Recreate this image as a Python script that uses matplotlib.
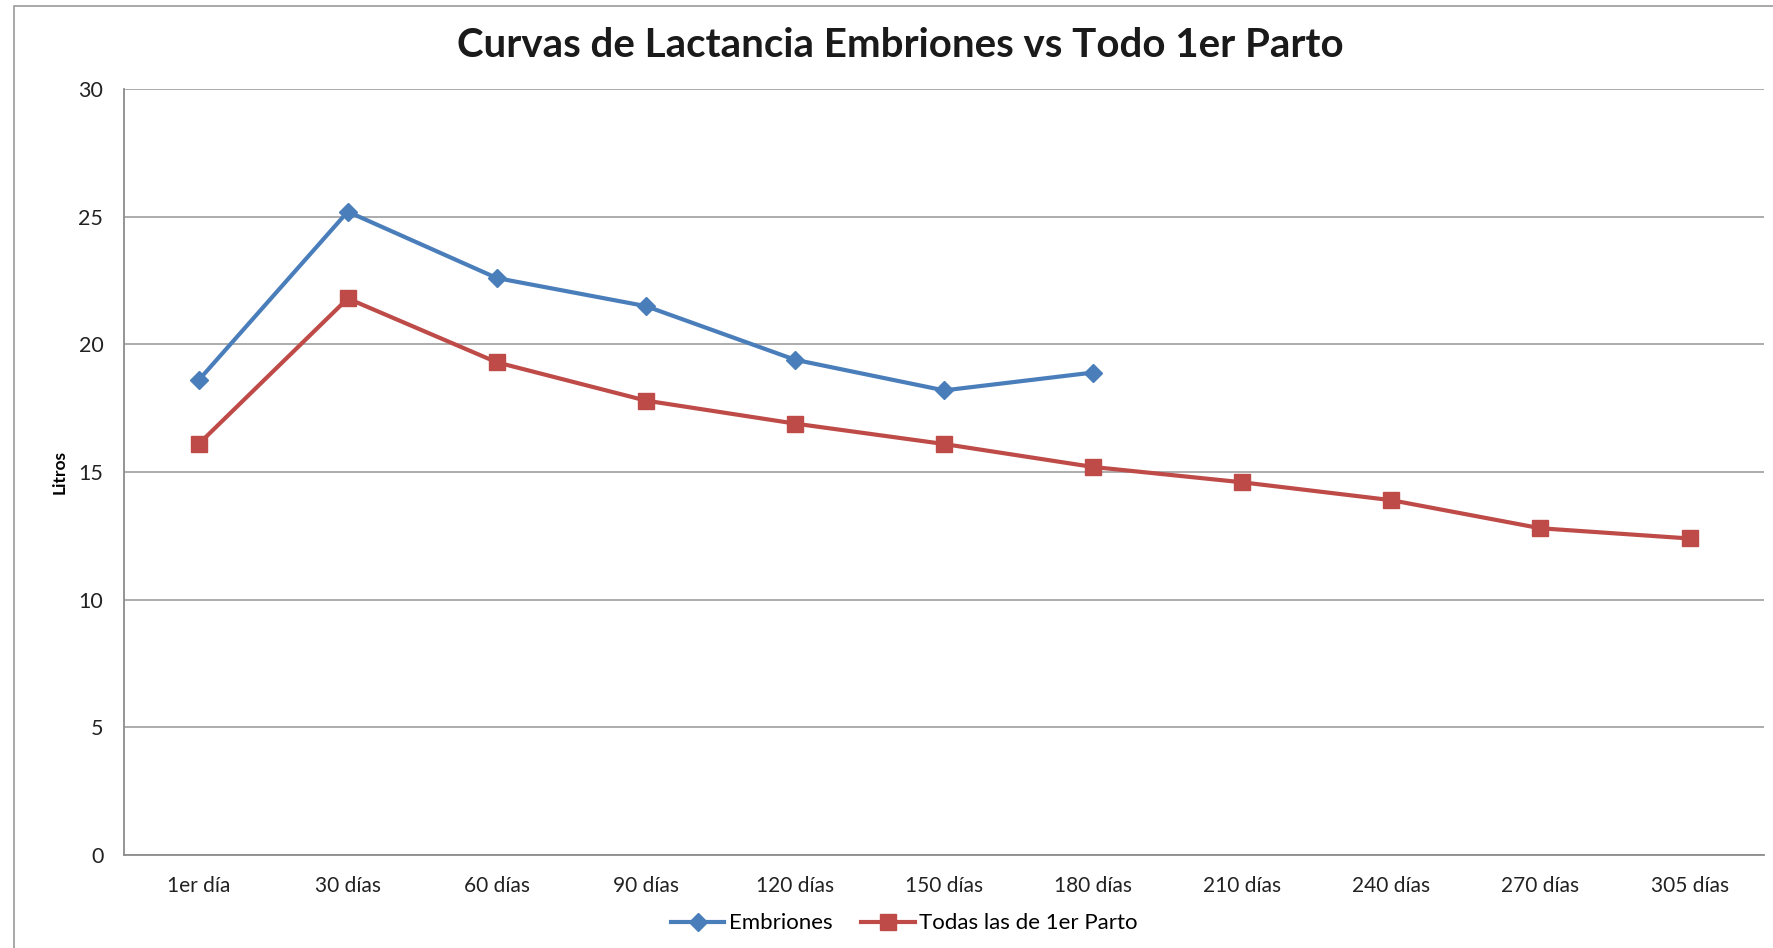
import matplotlib.pyplot as plt
from matplotlib.patches import Rectangle

categories = ['1er día', '30 días', '60 días', '90 días', '120 días', '150 días',
              '180 días', '210 días', '240 días', '270 días', '305 días']
embriones = [18.6, 25.2, 22.6, 21.5, 19.4, 18.2, 18.9]
todas_1er_parto = [16.1, 21.8, 19.3, 17.8, 16.9, 16.1, 15.2, 14.6, 13.9, 12.8, 12.4]
y_ticks = [0, 5, 10, 15, 20, 25, 30]

plt.rcParams['font.family'] = ['Lato', 'DejaVu Sans']

fig = plt.figure(figsize=(17.73, 9.48), dpi=100)
ax = fig.add_axes([0.070, 0.098, 0.925, 0.808])

# chart border like the original Excel frame
fig.patches.append(Rectangle((0.008, -0.01), 1.1, 1.004, transform=fig.transFigure,
                             fill=False, edgecolor='#9a9a9a', linewidth=1.2))

x_emb = list(range(len(embriones)))
x_todas = list(range(len(todas_1er_parto)))

ax.plot(x_emb, embriones, color='#4A7EBB', linewidth=3.0, marker='D',
        markersize=9, label='Embriones', zorder=3)
ax.plot(x_todas, todas_1er_parto, color='#BE4B48', linewidth=3.0, marker='s',
        markersize=11.5, label='Todas las de 1er Parto', zorder=3)

ax.set_xlim(-0.5, len(categories) - 0.5)
ax.set_ylim(0, 30)
ax.set_xticks(x_todas)
ax.set_xticklabels(categories, fontsize=15)
ax.set_yticks(y_ticks)
ax.set_yticklabels([str(t) for t in y_ticks], fontsize=15.5)
ax.tick_params(axis='both', length=0, colors='#222222')
ax.tick_params(axis='x', pad=15)
ax.tick_params(axis='y', pad=15)

ax.grid(axis='y', color='#a6a6a6', linewidth=1.3, zorder=0)
ax.set_axisbelow(True)
for side in ['top', 'right']:
    ax.spines[side].set_visible(False)
for side in ['left', 'bottom']:
    ax.spines[side].set_color('#8c8c8c')
    ax.spines[side].set_linewidth(1.3)

ax.set_ylabel('Litros', fontsize=12.5, fontweight='bold', labelpad=8)

fig.suptitle('Curvas de Lactancia Embriones vs Todo 1er Parto', x=0.508, y=0.972,
             fontsize=29, fontweight='bold', color='#1a1a1a')

fig.legend(loc='center', bbox_to_anchor=(0.51, 0.026), ncol=2, frameon=False,
           fontsize=16, handlelength=2.4, columnspacing=1.3, handletextpad=0.2)

fig.savefig('out.png', dpi=100, facecolor='white')
